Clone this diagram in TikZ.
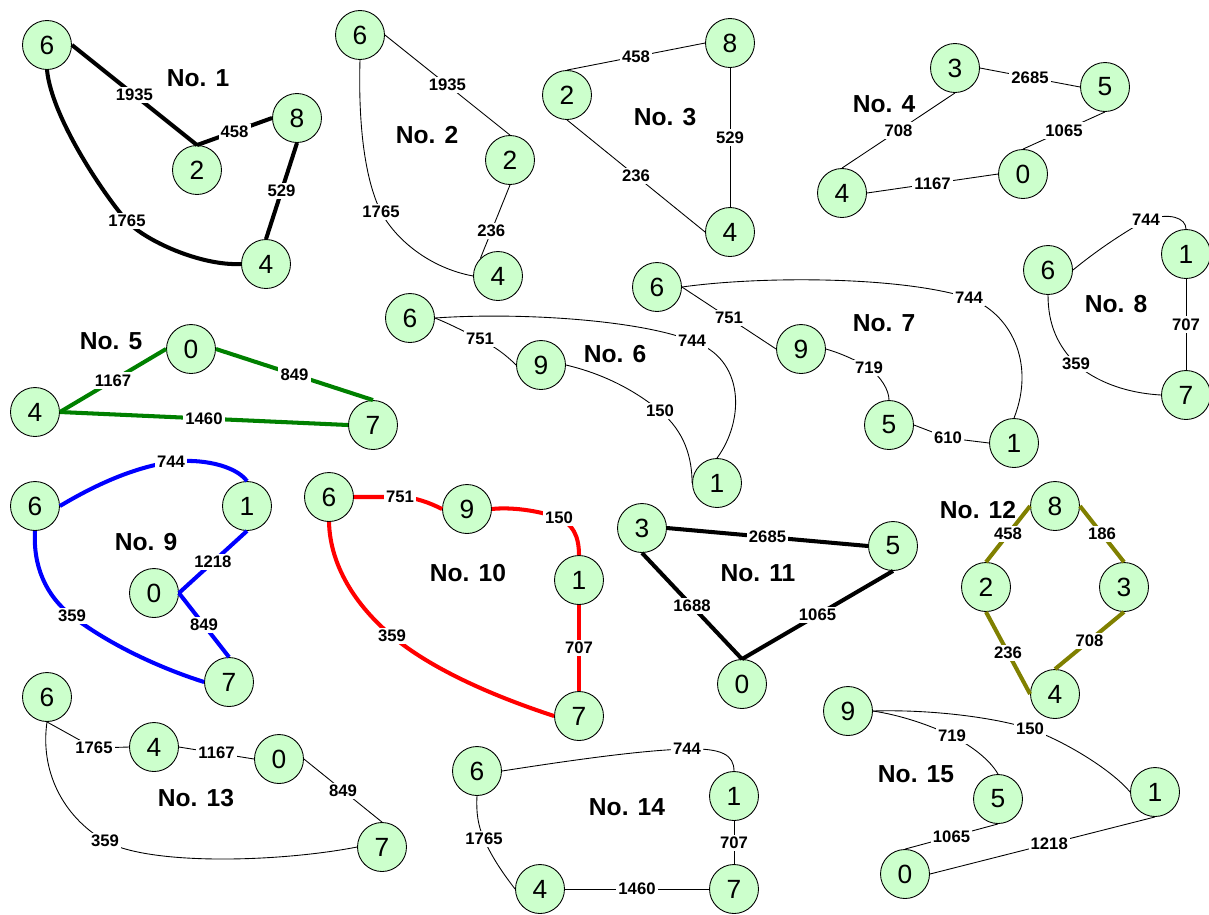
\documentclass[tikz,border=0pt]{standalone}
\usepackage{fontspec}
\setmainfont{Liberation Sans}
\definecolor{vfill}{HTML}{CCFFCC}
\definecolor{tgreen}{HTML}{008000}
\definecolor{tolive}{HTML}{808000}
\tikzset{
  vtx/.style={circle,draw=black,line width=0.5pt,fill=vfill,minimum size=0.98cm,
    inner sep=0pt,font=\fontsize{15}{17}\selectfont},
  lab/.style={fill=white,text=black,inner sep=1.2pt,font=\fontsize{9.5}{11}\selectfont\bfseries},
  ttl/.style={font=\fontsize{14}{16}\selectfont\bfseries},
  fine/.style={line width=0.5pt},
  heavy/.style={line width=2.3pt}
}
\newcommand{\vtx}[4]{\node[vtx] (#1) at (#2,#3) {#4};}

\begin{document}
\begin{tikzpicture}[x=0.02cm,y=-0.02cm]
\useasboundingbox (0,0) rectangle (1209,914);

% No. 1
\vtx{a6}{47}{45}{6}
\vtx{a2}{197}{170}{2}
\vtx{a8}{297}{118}{8}
\vtx{a4}{266}{264}{4}
\node[ttl] (t1) at (198,78) {No. 1};
\draw[heavy] (a6.east) -- node[lab]{1935} (a2.north);
\draw[heavy] (a2.north) -- node[lab]{458} (a8.west);
\draw[heavy] (a8.south) -- node[lab]{529} (a4.north);
\draw[heavy] (a6.south) .. controls (52,120) and (108,200) .. (127,221) node[lab]{1765}
  .. controls (144,240) and (200,266) .. (a4.west);

% No. 2
\vtx{b6}{360}{35}{6}
\vtx{b2}{510}{160}{2}
\vtx{b4}{498}{276}{4}
\node[ttl] (t2) at (427,135) {No. 2};
\draw[fine] (b6.east) -- node[lab]{1935} (b2.north);
\draw[fine] (b2.south) -- node[lab,pos=0.63]{236} (b4.135);
\draw[fine] (b6.south) .. controls (358,130) and (366,182) .. (381,212) node[lab]{1765}
  .. controls (396,240) and (430,268) .. (b4.west);

% No. 3
\vtx{c2}{567}{95}{2}
\vtx{c8}{730}{43}{8}
\vtx{c4}{730}{232}{4}
\node[ttl] (t3) at (665,117) {No. 3};
\draw[fine] (c2.north) -- node[lab]{458} (c8.west);
\draw[fine] (c8.south) -- node[lab]{529} (c4.north);
\draw[fine] (c2.south) -- node[lab]{236} (c4.west);

% No. 4
\vtx{d3}{955}{68}{3}
\vtx{d5}{1105}{87}{5}
\vtx{d0}{1023}{174}{0}
\vtx{d4}{842}{193}{4}
\node[ttl] (t4) at (884,104) {No. 4};
\draw[fine] (d3.east) -- node[lab]{2685} (d5.west);
\draw[fine] (d5.south) -- node[lab]{1065} (d0.north);
\draw[fine] (d3.south) -- node[lab]{708} (d4.north);
\draw[fine] (d4.east) -- node[lab]{1167} (d0.west);

% No. 5
\vtx{e0}{191}{349}{0}
\vtx{e4}{35}{412}{4}
\vtx{e7}{373}{425}{7}
\node[ttl] (t5) at (111,341) {No. 5};
\draw[heavy,tgreen] (e4.east) -- node[lab]{1167} (e0.west);
\draw[heavy,tgreen] (e0.east) -- node[lab]{849} (e7.north);
\draw[heavy,tgreen] (e4.east) -- node[lab]{1460} (e7.west);

% No. 6
\vtx{f6}{410}{318}{6}
\vtx{f9}{541}{365}{9}
\vtx{f1}{717}{483}{1}
\node[ttl] (t6) at (615,354) {No. 6};
\draw[fine] (f6.east) .. controls (450,324) and (465,332) .. (480,339) node[lab]{751}
  .. controls (495,347) and (505,354) .. (f9.west);
\draw[fine] (f9.east) .. controls (600,373) and (632,388) .. (660,411) node[lab]{150}
  .. controls (685,432) and (692,458) .. (f1.west);
\draw[fine] (f6.east) .. controls (520,312) and (640,320) .. (692,341) node[lab]{744}
  .. controls (745,358) and (745,420) .. (f1.north);

% No. 7
\vtx{g6}{657}{287}{6}
\vtx{g9}{801}{349}{9}
\vtx{g5}{889}{425}{5}
\vtx{g1}{1014}{443}{1}
\node[ttl] (t7) at (884,323) {No. 7};
\draw[fine] (g6.east) -- node[lab]{751} (g9.west);
\draw[fine] (g9.east) .. controls (840,353) and (856,360) .. (869,368) node[lab]{719}
  .. controls (881,377) and (889,390) .. (g5.north);
\draw[fine] (g5.east) -- (948,438) node[lab]{610} -- (g1.west);
\draw[fine] (g6.east) .. controls (760,276) and (900,276) .. (969,298) node[lab]{744}
  .. controls (1010,313) and (1036,362) .. (g1.north);

% No. 8
\vtx{h6}{1048}{270}{6}
\vtx{h1}{1186}{254}{1}
\vtx{h7}{1186}{395}{7}
\node[ttl] (t8) at (1116,304) {No. 8};
\draw[fine] (h6.east) .. controls (1095,252) and (1118,236) .. (1146,220) node[lab]{744}
  .. controls (1170,212) and (1186,218) .. (h1.north);
\draw[fine] (h1.south) -- node[lab]{707} (h7.north);
\draw[fine] (h6.south) .. controls (1048,325) and (1058,346) .. (1076,364) node[lab]{359}
  .. controls (1095,381) and (1125,393) .. (h7.west);

% No. 9
\vtx{i6}{35}{506}{6}
\vtx{i1}{247}{506}{1}
\vtx{i0}{154}{593}{0}
\vtx{i7}{229}{682}{7}
\node[ttl] (t9) at (146,542) {No. 9};
\draw[heavy,blue] (i6.east) .. controls (90,488) and (130,468) .. (171,462) node[lab]{744}
  .. controls (200,458) and (235,465) .. (i1.north);
\draw[heavy,blue] (i1.south) -- node[lab]{1218} (i0.east);
\draw[heavy,blue] (i0.east) -- node[lab]{849} (i7.north);
\draw[heavy,blue] (i6.south) .. controls (33,565) and (45,595) .. (72,616) node[lab]{359}
  .. controls (110,645) and (160,668) .. (i7.west);

% No. 10
\vtx{j6}{329}{497}{6}
\vtx{j9}{467}{509}{9}
\vtx{j1}{579}{580}{1}
\vtx{j7}{579}{716}{7}
\node[ttl] (t10) at (468,573) {No. 10};
\draw[heavy,red] (j6.east) .. controls (372,497) and (386,497) .. (400,497) node[lab]{751}
  .. controls (415,497) and (430,503) .. (j9.west);
\draw[heavy,red] (j9.east) .. controls (510,507) and (537,510) .. (559,518) node[lab]{150}
  .. controls (572,524) and (579,535) .. (j1.north);
\draw[heavy,red] (j1.south) -- node[lab]{707} (j7.north);
\draw[heavy,red] (j6.south) .. controls (330,565) and (355,605) .. (392,636) node[lab]{359}
  .. controls (430,668) and (490,695) .. (j7.west);

% No. 11
\vtx{k3}{642}{528}{3}
\vtx{k5}{893}{546}{5}
\vtx{k0}{742}{684}{0}
\node[ttl] (t11) at (758,573) {No. 11};
\draw[heavy] (k3.east) -- node[lab]{2685} (k5.west);
\draw[heavy] (k3.south) -- node[lab]{1688} (k0.north);
\draw[heavy] (k5.south) -- node[lab]{1065} (k0.north);

% No. 12
\vtx{l8}{1055}{506}{8}
\vtx{l2}{986}{587}{2}
\vtx{l3}{1124}{587}{3}
\vtx{l4}{1055}{694}{4}
\node[ttl] (t12) at (978,510) {No. 12};
\draw[heavy,tolive] (l8.west) -- node[lab]{458} (l2.north);
\draw[heavy,tolive] (l8.east) -- node[lab]{186} (l3.north);
\draw[heavy,tolive] (l2.south) -- node[lab]{236} (l4.west);
\draw[heavy,tolive] (l3.south) -- node[lab]{708} (l4.north);

% No. 13
\vtx{m6}{47}{697}{6}
\vtx{m4}{154}{747}{4}
\vtx{m0}{279}{759}{0}
\vtx{m7}{382}{847}{7}
\node[ttl] (t13) at (196,798) {No. 13};
\draw[fine] (m6.south) -- (94,748) node[lab]{1765} -- (m4.west);
\draw[fine] (m4.east) -- node[lab]{1167} (m0.west);
\draw[fine] (m0.east) -- node[lab]{849} (m7.north);
\draw[fine] (m6.south) .. controls (40,770) and (62,816) .. (105,841) node[lab]{359}
  .. controls (150,866) and (280,862) .. (m7.west);

% No. 14
\vtx{n6}{477}{771}{6}
\vtx{n1}{734}{796}{1}
\vtx{n7}{734}{889}{7}
\vtx{n4}{540}{889}{4}
\node[ttl] (t14) at (627,807) {No. 14};
\draw[fine] (n6.east) .. controls (560,762) and (640,750) .. (687,749) node[lab]{744}
  .. controls (722,748) and (734,755) .. (n1.north);
\draw[fine] (n1.south) -- node[lab]{707} (n7.north);
\draw[fine] (n4.east) -- node[lab]{1460} (n7.west);
\draw[fine] (n6.south) .. controls (476,812) and (478,826) .. (484,839) node[lab]{1765}
  .. controls (492,858) and (505,876) .. (n4.west);

% No. 15
\vtx{o9}{848}{711}{9}
\vtx{o5}{998}{799}{5}
\vtx{o1}{1155}{792}{1}
\vtx{o0}{905}{874}{0}
\node[ttl] (t15) at (916,774) {No. 15};
\draw[fine] (o9.east) .. controls (900,715) and (930,725) .. (952,736) node[lab]{719}
  .. controls (972,746) and (990,760) .. (o5.north);
\draw[fine] (o9.east) .. controls (940,709) and (1005,720) .. (1030,729) node[lab]{150}
  .. controls (1060,739) and (1110,768) .. (o1.west);
\draw[fine] (o5.south) -- node[lab]{1065} (o0.north);
\draw[fine] (o0.east) -- node[lab,pos=0.53]{1218} (o1.south);
\end{tikzpicture}
\end{document}
